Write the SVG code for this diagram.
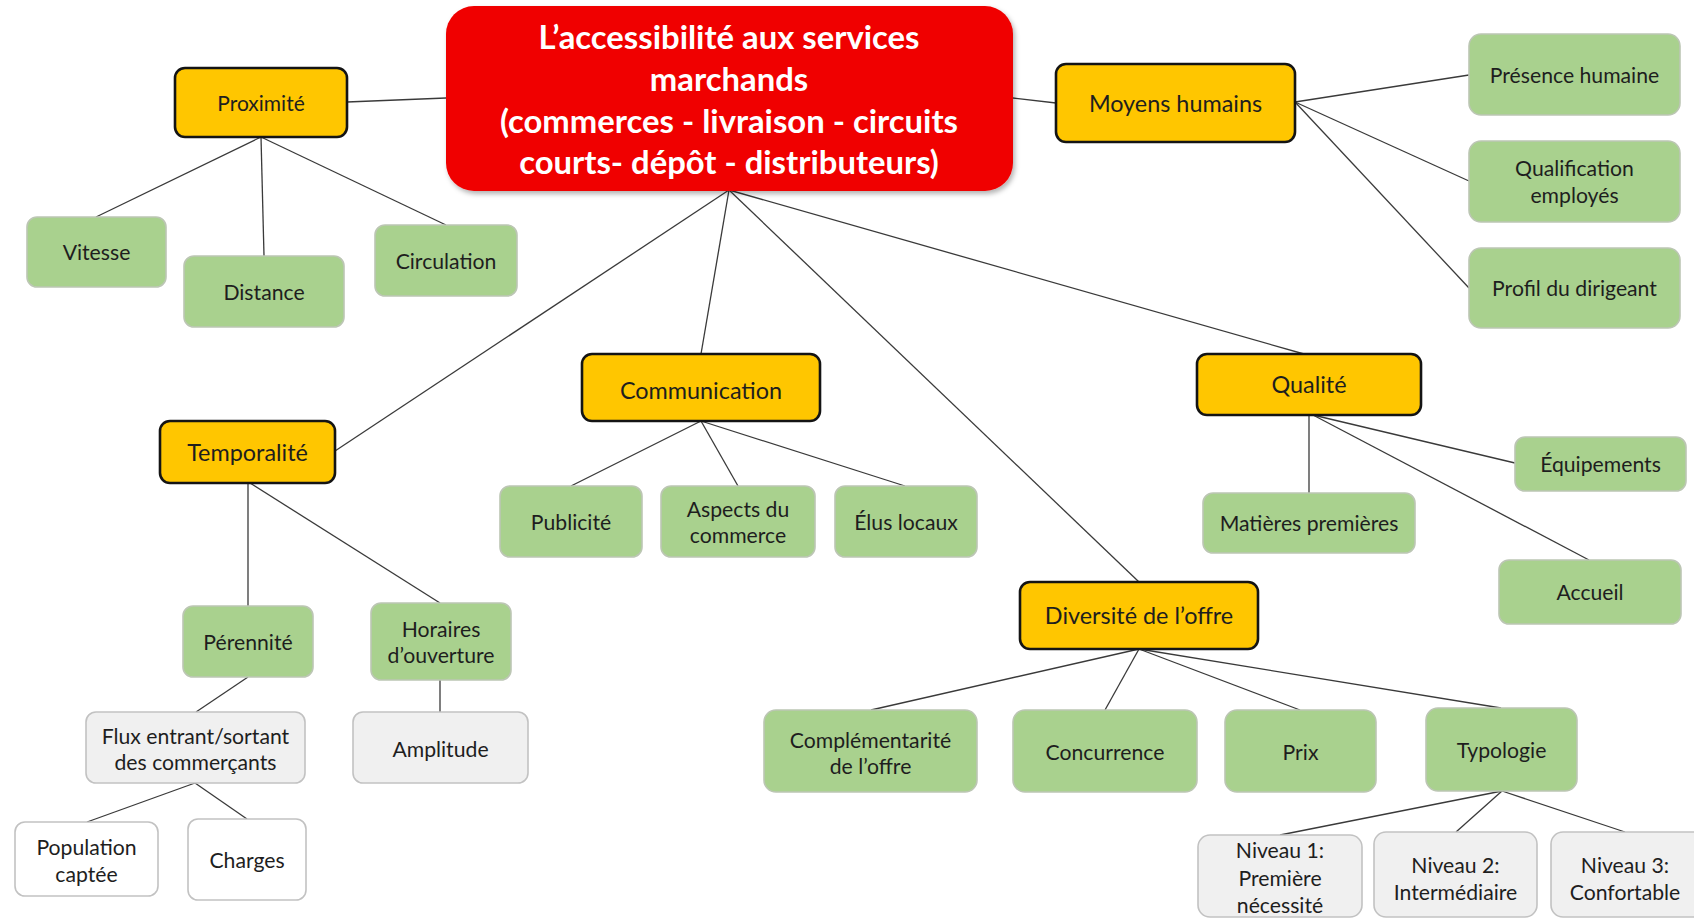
<svg xmlns="http://www.w3.org/2000/svg" width="1694" height="918" viewBox="0 0 1694 918">
  <defs>
    <filter id="soft" x="-5%" y="-5%" width="112%" height="115%">
      <feDropShadow dx="2" dy="3" stdDeviation="2.5" flood-color="#000" flood-opacity="0.3"/>
    </filter>
    <style>
      text { font-family: Lato, "Liberation Sans", sans-serif; fill: #1e1e1e; text-anchor: middle; }
      .root rect { fill: #F00000; }
      .root text { fill: #ffffff; font-weight: bold; font-size: 32.8px; }
      .hub rect { fill: #FFC600; stroke: #141414; stroke-width: 2.6; }
      .hub text { font-size: 23.4px; }
      .leaf rect { fill: #A9D18E; stroke: #bcc6b4; stroke-width: 1.6; }
      .leaf text { font-size: 21.2px; }
      .sub rect { fill: #F0F0F0; stroke: #c2c2c2; stroke-width: 1.6; }
      .sub text { font-size: 21.2px; }
      .plain rect { fill: #ffffff; stroke: #c2c2c2; stroke-width: 1.6; }
      .plain text { font-size: 21.2px; }
      #connectors line { stroke: #3a3a3a; stroke-width: 1.3; }
    </style>
  </defs>

  <rect width="1694" height="918" fill="#ffffff"/>

  <!-- connectors -->
  <g id="connectors">
    <line x1="446" y1="98" x2="347" y2="102"/>
    <line x1="1013" y1="98" x2="1056" y2="103"/>
    <line x1="729" y1="190" x2="335" y2="451"/>
    <line x1="729" y1="190" x2="701" y2="354"/>
    <line x1="729" y1="190" x2="1139" y2="582"/>
    <line x1="729" y1="190" x2="1304" y2="354"/>

    <line x1="261" y1="137" x2="96" y2="217"/>
    <line x1="261" y1="137" x2="264" y2="256"/>
    <line x1="261" y1="137" x2="446" y2="225"/>

    <line x1="1295" y1="102" x2="1469" y2="75"/>
    <line x1="1295" y1="102" x2="1469" y2="181"/>
    <line x1="1295" y1="102" x2="1469" y2="288"/>

    <line x1="248" y1="483" x2="248" y2="606"/>
    <line x1="250" y1="483" x2="440" y2="603"/>
    <line x1="248" y1="677" x2="196" y2="712"/>
    <line x1="440" y1="680" x2="440" y2="712"/>
    <line x1="195" y1="783" x2="87" y2="822"/>
    <line x1="195" y1="783" x2="247" y2="819"/>

    <line x1="701" y1="421" x2="571" y2="486"/>
    <line x1="701" y1="421" x2="738" y2="486"/>
    <line x1="701" y1="421" x2="905" y2="486"/>

    <line x1="1309" y1="415" x2="1309" y2="493"/>
    <line x1="1313" y1="415" x2="1515" y2="463"/>
    <line x1="1313" y1="415" x2="1589" y2="560"/>

    <line x1="1139" y1="649" x2="871" y2="710"/>
    <line x1="1139" y1="649" x2="1105" y2="710"/>
    <line x1="1139" y1="649" x2="1300" y2="710"/>
    <line x1="1139" y1="649" x2="1501" y2="708"/>

    <line x1="1502" y1="791" x2="1280" y2="835"/>
    <line x1="1502" y1="791" x2="1456" y2="832"/>
    <line x1="1502" y1="791" x2="1625" y2="832"/>
  </g>

  <!-- central topic -->
  <g id="root" class="root">
    <rect x="446" y="6" width="567" height="185" rx="28" filter="url(#soft)"/>
    <text x="729" y="49">L’accessibilité aux services</text>
    <text x="729" y="91">marchands</text>
    <text x="729" y="133">(commerces - livraison - circuits</text>
    <text x="729" y="174">courts- dépôt - distributeurs)</text>
  </g>

  <!-- main themes -->
  <g id="proximite" class="hub">
    <rect x="175" y="68" width="172" height="69" rx="10"/>
    <text x="261" y="111" style="font-size:21px">Proximité</text>
  </g>
  <g id="moyens-humains" class="hub">
    <rect x="1056" y="64" width="239" height="78" rx="10"/>
    <text x="1175.5" y="112">Moyens humains</text>
  </g>
  <g id="temporalite" class="hub">
    <rect x="160" y="421" width="175" height="62" rx="10"/>
    <text x="247.5" y="461">Temporalité</text>
  </g>
  <g id="communication" class="hub">
    <rect x="582" y="354" width="238" height="67" rx="10"/>
    <text x="701" y="399">Communication</text>
  </g>
  <g id="qualite" class="hub">
    <rect x="1197" y="354" width="224" height="61" rx="10"/>
    <text x="1309" y="393">Qualité</text>
  </g>
  <g id="diversite" class="hub">
    <rect x="1020" y="582" width="238" height="67" rx="10"/>
    <text x="1139" y="624">Diversité de l’offre</text>
  </g>

  <!-- Proximité -->
  <g id="vitesse" class="leaf">
    <rect x="27" y="217" width="139" height="70" rx="10"/>
    <text x="96.5" y="260">Vitesse</text>
  </g>
  <g id="distance" class="leaf">
    <rect x="184" y="256" width="160" height="71" rx="10"/>
    <text x="264" y="300">Distance</text>
  </g>
  <g id="circulation" class="leaf">
    <rect x="375" y="225" width="142" height="71" rx="10"/>
    <text x="446" y="269">Circulation</text>
  </g>

  <!-- Moyens humains -->
  <g id="presence" class="leaf">
    <rect x="1469" y="34" width="211" height="81" rx="12"/>
    <text x="1574.5" y="83">Présence humaine</text>
  </g>
  <g id="qualification" class="leaf">
    <rect x="1469" y="141" width="211" height="81" rx="12"/>
    <text x="1574.5" y="176">Qualification</text>
    <text x="1574.5" y="203">employés</text>
  </g>
  <g id="profil" class="leaf">
    <rect x="1469" y="248" width="211" height="80" rx="12"/>
    <text x="1574.5" y="296">Profil du dirigeant</text>
  </g>

  <!-- Communication -->
  <g id="publicite" class="leaf">
    <rect x="500" y="486" width="142" height="71" rx="10"/>
    <text x="571" y="530">Publicité</text>
  </g>
  <g id="aspects" class="leaf">
    <rect x="661" y="486" width="154" height="71" rx="10"/>
    <text x="738" y="517">Aspects du</text>
    <text x="738" y="543">commerce</text>
  </g>
  <g id="elus" class="leaf">
    <rect x="835" y="486" width="142" height="71" rx="10"/>
    <text x="906" y="530">Élus locaux</text>
  </g>

  <!-- Qualité -->
  <g id="equipements" class="leaf">
    <rect x="1515" y="437" width="171" height="54" rx="10"/>
    <text x="1600.5" y="472">Équipements</text>
  </g>
  <g id="matieres" class="leaf">
    <rect x="1203" y="493" width="212" height="60" rx="10"/>
    <text x="1309" y="531">Matières premières</text>
  </g>
  <g id="accueil" class="leaf">
    <rect x="1499" y="560" width="182" height="64" rx="10"/>
    <text x="1590" y="600">Accueil</text>
  </g>

  <!-- Temporalité -->
  <g id="perennite" class="leaf">
    <rect x="183" y="606" width="130" height="71" rx="10"/>
    <text x="248" y="650">Pérennité</text>
  </g>
  <g id="horaires" class="leaf">
    <rect x="371" y="603" width="140" height="77" rx="10"/>
    <text x="441" y="637">Horaires</text>
    <text x="441" y="663">d’ouverture</text>
  </g>
  <g id="flux" class="sub">
    <rect x="86" y="712" width="219" height="71" rx="10"/>
    <text x="195.5" y="744">Flux entrant/sortant</text>
    <text x="195.5" y="770">des commerçants</text>
  </g>
  <g id="amplitude" class="sub">
    <rect x="353" y="712" width="175" height="71" rx="10"/>
    <text x="440.5" y="757">Amplitude</text>
  </g>
  <g id="population" class="plain">
    <rect x="15" y="822" width="143" height="74" rx="10"/>
    <text x="86.5" y="855">Population</text>
    <text x="86.5" y="882">captée</text>
  </g>
  <g id="charges" class="plain">
    <rect x="188" y="819" width="118" height="81" rx="10"/>
    <text x="247" y="868">Charges</text>
  </g>

  <!-- Diversité de l'offre -->
  <g id="complementarite" class="leaf">
    <rect x="764" y="710" width="213" height="82" rx="12"/>
    <text x="870.5" y="748">Complémentarité</text>
    <text x="870.5" y="774">de l’offre</text>
  </g>
  <g id="concurrence" class="leaf">
    <rect x="1013" y="710" width="184" height="82" rx="12"/>
    <text x="1105" y="760">Concurrence</text>
  </g>
  <g id="prix" class="leaf">
    <rect x="1225" y="710" width="151" height="82" rx="12"/>
    <text x="1300.5" y="760">Prix</text>
  </g>
  <g id="typologie" class="leaf">
    <rect x="1426" y="708" width="151" height="83" rx="12"/>
    <text x="1501.5" y="758">Typologie</text>
  </g>
  <g id="niveau1" class="sub">
    <rect x="1198" y="835" width="164" height="82" rx="12"/>
    <text x="1280" y="858">Niveau 1:</text>
    <text x="1280" y="886">Première</text>
    <text x="1280" y="913">nécessité</text>
  </g>
  <g id="niveau2" class="sub">
    <rect x="1374" y="832" width="163" height="85" rx="12"/>
    <text x="1455.5" y="873">Niveau 2:</text>
    <text x="1455.5" y="900">Intermédiaire</text>
  </g>
  <g id="niveau3" class="sub">
    <rect x="1551" y="832" width="160" height="85" rx="12"/>
    <text x="1625" y="873">Niveau 3:</text>
    <text x="1625" y="900">Confortable</text>
  </g>
</svg>
